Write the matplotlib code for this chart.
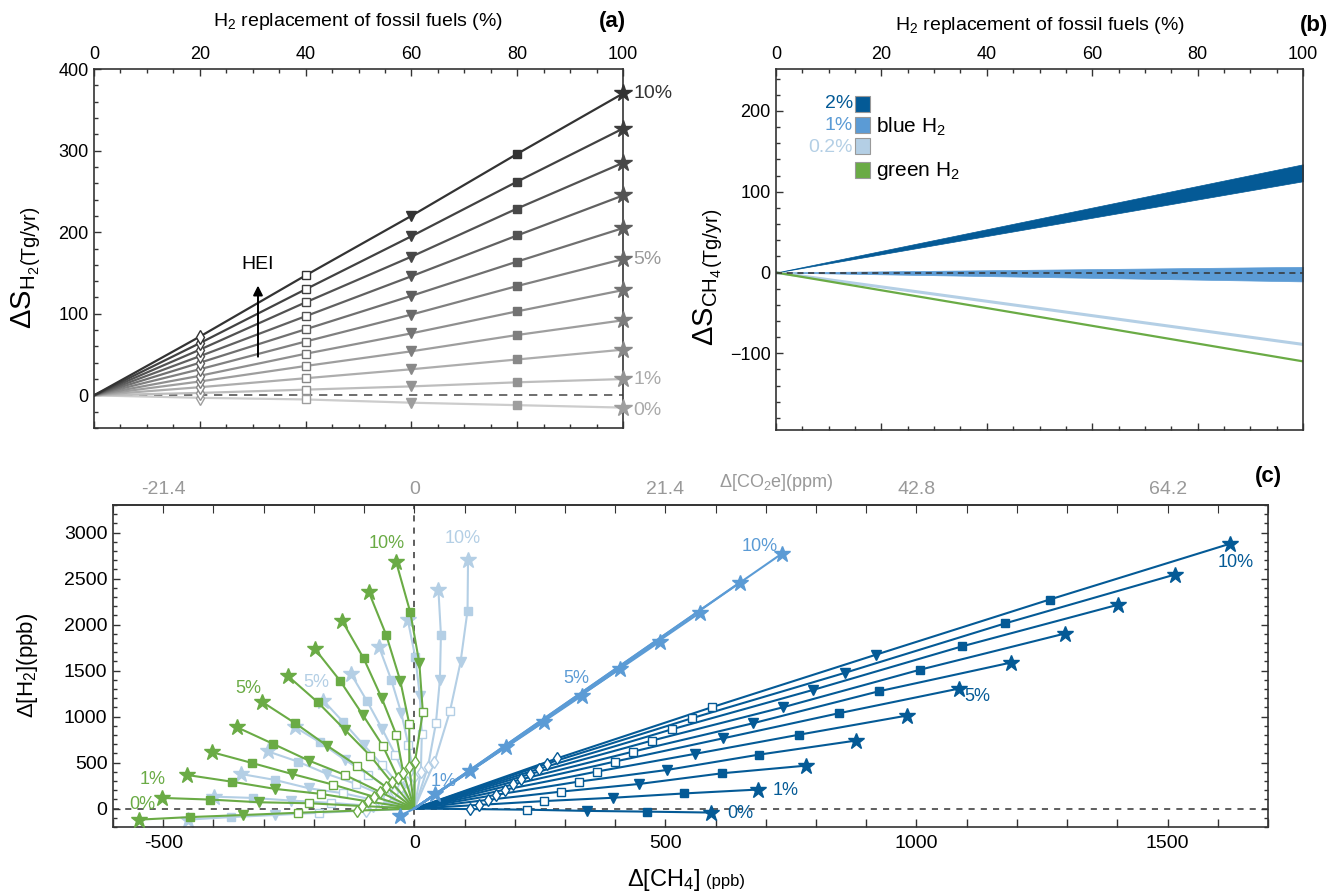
import matplotlib
matplotlib.use('Agg')
import matplotlib.pyplot as plt
from matplotlib.patches import Rectangle
from matplotlib.ticker import FixedLocator, MultipleLocator

plt.rcParams['font.family'] = ['Liberation Sans', 'DejaVu Sans']
plt.rcParams['mathtext.fontset'] = 'custom'
plt.rcParams['mathtext.rm'] = 'Liberation Sans'
plt.rcParams['mathtext.it'] = 'Liberation Sans:italic'
plt.rcParams['mathtext.bf'] = 'Liberation Sans:bold'

# ---------------- data ----------------
HEI = ['0%', '1%', '2%', '3%', '4%', '5%', '6%', '7%', '8%', '9%', '10%']
REPLACEMENT = [20, 40, 60, 80, 100]          # % H2 replacement of fossil fuels

# panel (a): Delta S_H2 (Tg/yr) for HEI 0..10 %, at 20/40/60/80/100 % replacement
SH2_20 = [-3, 3, 10, 17, 24, 32, 40, 48, 56, 64, 72]
SH2_40 = [-5, 7, 21, 36, 51, 66, 81, 97, 114, 130, 147]
SH2_60 = [-9, 11, 32, 54, 76, 99, 122, 146, 170, 195, 220]
SH2_80 = [-12, 16, 44, 74, 103, 134, 164, 196, 229, 262, 296]
SH2_100 = [-15, 20, 56, 92, 129, 167, 205, 245, 285, 327, 370]

# panel (b): Delta S_CH4 (Tg/yr) vs replacement
REPL_B = [0, 100]
BLUE2_LOW = [0, 113]
BLUE2_HIGH = [0, 134]
BLUE1_LOW = [0, -11]
BLUE1_HIGH = [0, 7]
BLUE02_LINE = [0, -89]
GREEN_LINE = [0, -110]

# panel (c): Delta[CH4] (ppb) and Delta[H2] (ppb), HEI 0..10 %
# green H2
GREEN_CH4_20 = [-115, -104, -92, -80, -68, -56, -45, -33, -22, -10, 1]
GREEN_H2_20 = [-22, 28, 78, 128, 180, 232, 285, 338, 392, 447, 503]
GREEN_CH4_40 = [-231, -209, -186, -162, -138, -114, -88, -63, -36, -10, 17]
GREEN_H2_40 = [-45, 58, 160, 261, 366, 467, 576, 685, 804, 921, 1047]
GREEN_CH4_60 = [-342, -310, -277, -244, -210, -174, -138, -103, -65, -28, 10]
GREEN_H2_60 = [-70, 69, 214, 377, 522, 685, 855, 1022, 1203, 1391, 1583]
GREEN_CH4_80 = [-446, -406, -364, -324, -281, -237, -192, -148, -101, -56, -8]
GREEN_H2_80 = [-92, 98, 293, 497, 703, 927, 1155, 1391, 1634, 1888, 2134]
GREEN_CH4_100 = [-548, -502, -453, -402, -353, -303, -251, -198, -144, -91, -36]
GREEN_H2_100 = [-120, 116, 366, 612, 884, 1160, 1438, 1736, 2043, 2359, 2677]
# blue H2, 0.2 % leakage
LBLUE_CH4_20 = [-96, -82, -68, -55, -41, -27, -14, 0, 13, 27, 40]
LBLUE_H2_20 = [-22, 28, 78, 128, 180, 234, 287, 340, 395, 450, 503]
LBLUE_CH4_40 = [-189, -165, -141, -116, -92, -64, -38, -12, 15, 43, 71]
LBLUE_H2_40 = [-45, 62, 166, 268, 370, 475, 587, 696, 812, 927, 1058]
LBLUE_CH4_60 = [-278, -245, -210, -174, -138, -101, -64, -26, 11, 51, 92]
LBLUE_H2_60 = [-70, 87, 221, 377, 529, 692, 866, 1040, 1228, 1402, 1590]
LBLUE_CH4_80 = [-365, -322, -278, -232, -188, -141, -94, -46, 2, 53, 106]
LBLUE_H2_80 = [-92, 116, 312, 511, 721, 938, 1166, 1402, 1645, 1891, 2152]
LBLUE_CH4_100 = [-451, -399, -346, -292, -237, -181, -126, -70, -13, 48, 107]
LBLUE_H2_100 = [-120, 130, 377, 623, 884, 1174, 1464, 1754, 2051, 2377, 2703]
# blue H2, 1 % leakage (end points)
MBLUE_CH4_100 = [-28, 42, 111, 183, 259, 334, 410, 489, 569, 648, 732]
MBLUE_H2_100 = [-76, 163, 413, 674, 946, 1228, 1522, 1815, 2130, 2457, 2772]
# blue H2, 2 % leakage
DBLUE_CH4_20 = [111, 129, 146, 163, 180, 196, 213, 230, 248, 265, 285]
DBLUE_H2_20 = [-5, 40, 95, 150, 205, 262, 318, 375, 432, 490, 547]
DBLUE_CH4_40 = [225, 259, 293, 327, 363, 399, 436, 473, 513, 552, 592]
DBLUE_H2_40 = [-12, 82, 185, 293, 402, 511, 620, 739, 862, 981, 1101]
DBLUE_CH4_60 = [344, 396, 448, 503, 558, 615, 674, 734, 794, 857, 920]
DBLUE_H2_60 = [-25, 118, 268, 420, 594, 764, 927, 1101, 1290, 1475, 1674]
DBLUE_CH4_80 = [464, 538, 613, 687, 767, 845, 925, 1008, 1091, 1177, 1265]
DBLUE_H2_80 = [-33, 165, 384, 587, 804, 1036, 1275, 1511, 1764, 2014, 2272]
DBLUE_CH4_100 = [591, 684, 780, 879, 981, 1084, 1188, 1295, 1402, 1514, 1625]
DBLUE_H2_100 = [-43, 207, 467, 739, 1011, 1304, 1587, 1902, 2217, 2543, 2880]

CH4_TICKS = [-500, 0, 500, 1000, 1500]
CO2E_LABELS = ['-21.4', '0', '21.4', '42.8', '64.2']

# ---------------- style ----------------
GREEN = '#6aab45'
LBLUE = '#b4cfe5'
MBLUE = '#5b9bd5'
DBLUE = '#045a96'
SPINE = '#333333'

W, H = 1332, 894
fig = plt.figure(figsize=(W / 100, H / 100), dpi=100)


def box(l, t, r, b):
    return [l / W, 1 - b / H, (r - l) / W, (b - t) / H]


def fx(p):
    return p / W


def fy(p):
    return 1 - p / H


def style_axes(ax):
    for s in ax.spines.values():
        s.set_color(SPINE)
        s.set_linewidth(1.2)
    ax.tick_params(which='both', direction='in', color=SPINE, width=1.0,
                   labelsize=13, pad=4)
    ax.tick_params(which='major', length=5)
    ax.tick_params(which='minor', length=3)


MSTYLE_A = [('d', False, 7.5), ('s', False, 6.0), ('v', True, 7.5), ('s', True, 6.0), ('*', True, 13)]
MSTYLE_C = [('d', False, 6.5), ('s', False, 5.2), ('v', True, 7.0), ('s', True, 5.5), ('*', True, 12)]

# ---------------- panel (a) ----------------
axa = fig.add_axes(box(94, 69, 623, 428))
style_axes(axa)
axa.set_xlim(0, 100)
axa.set_ylim(-40, 400)
axa.xaxis.set_major_locator(MultipleLocator(20))
axa.xaxis.set_minor_locator(MultipleLocator(5))
axa.yaxis.set_major_locator(FixedLocator([0, 100, 200, 300, 400]))
axa.yaxis.set_minor_locator(MultipleLocator(20))
axa.tick_params(axis='x', which='both', top=True, bottom=True, labeltop=True, labelbottom=False)
axa.tick_params(axis='y', which='both', left=True, right=False)
axa.axhline(0, color='#555555', lw=1.2, dashes=(5, 4), zorder=1)

sa = [SH2_20, SH2_40, SH2_60, SH2_80, SH2_100]
for i in range(len(HEI)):
    g = 0.8 - 0.6 * i / 10
    gm = 0.62 - 0.42 * i / 10
    lc = (g, g, g)
    mc = (gm, gm, gm)
    ys = [col[i] for col in sa]
    axa.plot([0] + REPLACEMENT, [0] + ys, color=lc, lw=1.6, zorder=2)
    for (m, filled, ms), xv, yv in zip(MSTYLE_A, REPLACEMENT, ys):
        axa.plot([xv], [yv], marker=m, ms=ms, color=mc,
                 mfc=mc if filled else 'white', mec=mc, mew=1.0, zorder=3, clip_on=False)

for idx, col in [(10, '#333333'), (5, '#9a9a9a'), (1, '#aaaaaa'), (0, '#aaaaaa')]:
    axa.text(102, SH2_100[idx] - (4 if idx == 0 else 0), HEI[idx], color=col, fontsize=14,
             ha='left', va='center', clip_on=False)

axa.annotate('', xy=(31, 138), xytext=(31, 44),
             arrowprops=dict(arrowstyle='-|>', color='black', lw=1.4, mutation_scale=14))
axa.text(31, 150, 'HEI', ha='center', va='bottom', fontsize=14)

fig.text(fx(358), fy(22), 'H$_2$ replacement of fossil fuels (%)', ha='center', va='center', fontsize=14)
fig.text(fx(612), fy(22), '(a)', ha='center', va='center', fontsize=16, fontweight='bold')
fig.text(fx(26), fy(266), r'$\Delta$S$_{\mathrm{H_2}}$', rotation=90, ha='center', va='top', fontsize=21)
fig.text(fx(29), fy(264), '(Tg/yr)', rotation=90, ha='center', va='bottom', fontsize=14.5)

# ---------------- panel (b) ----------------
axb = fig.add_axes(box(776, 69, 1303, 430))
style_axes(axb)
axb.set_xlim(0, 100)
axb.set_ylim(-195, 252)
axb.xaxis.set_major_locator(MultipleLocator(20))
axb.xaxis.set_minor_locator(MultipleLocator(5))
axb.yaxis.set_major_locator(FixedLocator([-100, 0, 100, 200]))
axb.yaxis.set_minor_locator(MultipleLocator(20))
axb.tick_params(axis='x', which='both', top=True, bottom=True, labeltop=True, labelbottom=False)
axb.tick_params(axis='y', which='both', left=True, right=False)

axb.fill_between(REPL_B, BLUE2_LOW, BLUE2_HIGH, color=DBLUE, lw=0.5, zorder=2)
axb.fill_between(REPL_B, BLUE1_LOW, BLUE1_HIGH, color=MBLUE, lw=0.5, zorder=2)
axb.plot(REPL_B, BLUE02_LINE, color=LBLUE, lw=2.2, zorder=2)
axb.plot(REPL_B, GREEN_LINE, color=GREEN, lw=1.6, zorder=2)
axb.axhline(0, color='#333333', lw=1.1, dashes=(4, 3), zorder=3)

fig.text(fx(1040), fy(26), 'H$_2$ replacement of fossil fuels (%)', ha='center', va='center', fontsize=14)
fig.text(fx(1314), fy(26), '(b)', ha='center', va='center', fontsize=16, fontweight='bold')
fig.text(fx(708), fy(268), r'$\Delta$S$_{\mathrm{CH_4}}$', rotation=90, ha='center', va='top', fontsize=21)
fig.text(fx(711), fy(266), '(Tg/yr)', rotation=90, ha='center', va='bottom', fontsize=14.5)

sq = 15
for yc, c in [(104, DBLUE), (125, MBLUE), (146, LBLUE), (170, GREEN)]:
    fig.add_artist(Rectangle((fx(862 - sq / 2), fy(yc + sq / 2)), sq / W, sq / H,
                             transform=fig.transFigure, facecolor=c, edgecolor='#999999', lw=0.8))
fig.text(fx(853), fy(104), '2%', color=DBLUE, ha='right', va='center', fontsize=14)
fig.text(fx(853), fy(126), '1%', color=MBLUE, ha='right', va='center', fontsize=14)
fig.text(fx(853), fy(147), '0.2%', color=LBLUE, ha='right', va='center', fontsize=14)
fig.text(fx(876), fy(127), 'blue H$_2$', color='black', ha='left', va='center', fontsize=15)
fig.text(fx(876), fy(171), 'green H$_2$', color='black', ha='left', va='center', fontsize=15)

# ---------------- panel (c) ----------------
axc = fig.add_axes(box(113, 505, 1268, 827))
style_axes(axc)
axc.set_xlim(-600, 1700)
axc.set_ylim(-200, 3300)
xt = list(range(-600, 1701, 100))
axc.xaxis.set_major_locator(FixedLocator(xt))
axc.set_xticklabels([str(v) if v in CH4_TICKS else '' for v in xt],
                    family=['Liberation Sans Narrow', 'Liberation Sans'], fontsize=14)
axc.yaxis.set_major_locator(FixedLocator([0, 500, 1000, 1500, 2000, 2500, 3000]))
axc.yaxis.set_minor_locator(MultipleLocator(100))
axc.tick_params(axis='y', which='both', left=True, right=True, labelsize=14)
axc.tick_params(axis='x', which='major', length=6, labelsize=14, pad=6)

sec = axc.secondary_xaxis('top')
sec.set_xticks(xt)
sec.set_xticklabels([CO2E_LABELS[CH4_TICKS.index(v)] if v in CH4_TICKS else '' for v in xt])
sec.tick_params(direction='in', length=6, color=SPINE, labelsize=14, labelcolor='#999999', pad=5)
sec.spines['top'].set_color(SPINE)
sec.spines['top'].set_linewidth(1.2)

axc.axhline(0, color='#333333', lw=1.1, dashes=(4, 4), zorder=1)
axc.axvline(0, color='#333333', lw=1.1, dashes=(4, 4), zorder=1)


def fan(ch4_cols, h2_cols, color, z):
    for i in range(len(HEI)):
        xs = [c[i] for c in ch4_cols]
        ys = [c[i] for c in h2_cols]
        axc.plot([0] + xs, [0] + ys, color=color, lw=1.5, zorder=z)
        for (m, filled, ms), xv, yv in zip(MSTYLE_C, xs, ys):
            axc.plot([xv], [yv], marker=m, ms=ms, color=color,
                     mfc=color if filled else 'white', mec=color, mew=1.0, zorder=z + 0.5)


fan([LBLUE_CH4_20, LBLUE_CH4_40, LBLUE_CH4_60, LBLUE_CH4_80, LBLUE_CH4_100],
    [LBLUE_H2_20, LBLUE_H2_40, LBLUE_H2_60, LBLUE_H2_80, LBLUE_H2_100], LBLUE, 2)
fan([GREEN_CH4_20, GREEN_CH4_40, GREEN_CH4_60, GREEN_CH4_80, GREEN_CH4_100],
    [GREEN_H2_20, GREEN_H2_40, GREEN_H2_60, GREEN_H2_80, GREEN_H2_100], GREEN, 3)
fan([DBLUE_CH4_20, DBLUE_CH4_40, DBLUE_CH4_60, DBLUE_CH4_80, DBLUE_CH4_100],
    [DBLUE_H2_20, DBLUE_H2_40, DBLUE_H2_60, DBLUE_H2_80, DBLUE_H2_100], DBLUE, 4)
for i in range(len(HEI)):
    axc.plot([0, MBLUE_CH4_100[i]], [0, MBLUE_H2_100[i]], color=MBLUE, lw=1.5, zorder=5)
    axc.plot([MBLUE_CH4_100[i]], [MBLUE_H2_100[i]], marker='*', ms=12, color=MBLUE, zorder=5.5)

lab = dict(fontsize=13, ha='center', va='center')
axc.text(-54, 2880, '10%', color=GREEN, **lab)
axc.text(-330, 1304, '5%', color=GREEN, **lab)
axc.text(-521, 315, '1%', color=GREEN, **lab)
axc.text(-541, 40, '0%', color=GREEN, **lab)
axc.text(97, 2935, '10%', color=LBLUE, **lab)
axc.text(-195, 1370, '5%', color=LBLUE, **lab)
axc.text(688, 2848, '10%', color=MBLUE, **lab)
axc.text(322, 1413, '5%', color=MBLUE, **lab)
axc.text(58, 290, '1%', color=MBLUE, **lab)
axc.text(1635, 2674, '10%', color=DBLUE, **lab)
axc.text(1122, 1217, '5%', color=DBLUE, **lab)
axc.text(740, 196, '1%', color=DBLUE, **lab)
axc.text(624, -55, '0%', color=DBLUE, fontsize=13, ha='left', va='center')

fig.text(fx(1268), fy(477), '(c)', ha='center', va='center', fontsize=16, fontweight='bold')
fig.text(fx(776), fy(482), r'$\Delta$[CO$_2$e](ppm)', ha='center', va='center', fontsize=13, color='#999999')
fig.text(fx(28), fy(665), r'$\Delta$[H$_2$](ppb)', rotation=90, ha='center', va='center', fontsize=16)
fig.text(fx(700), fy(886), r'$\Delta$[CH$_4$]', ha='right', va='baseline', fontsize=17)
fig.text(fx(706), fy(886), '(ppb)', ha='left', va='baseline', fontsize=12)

fig.savefig('out.png', dpi=100)
